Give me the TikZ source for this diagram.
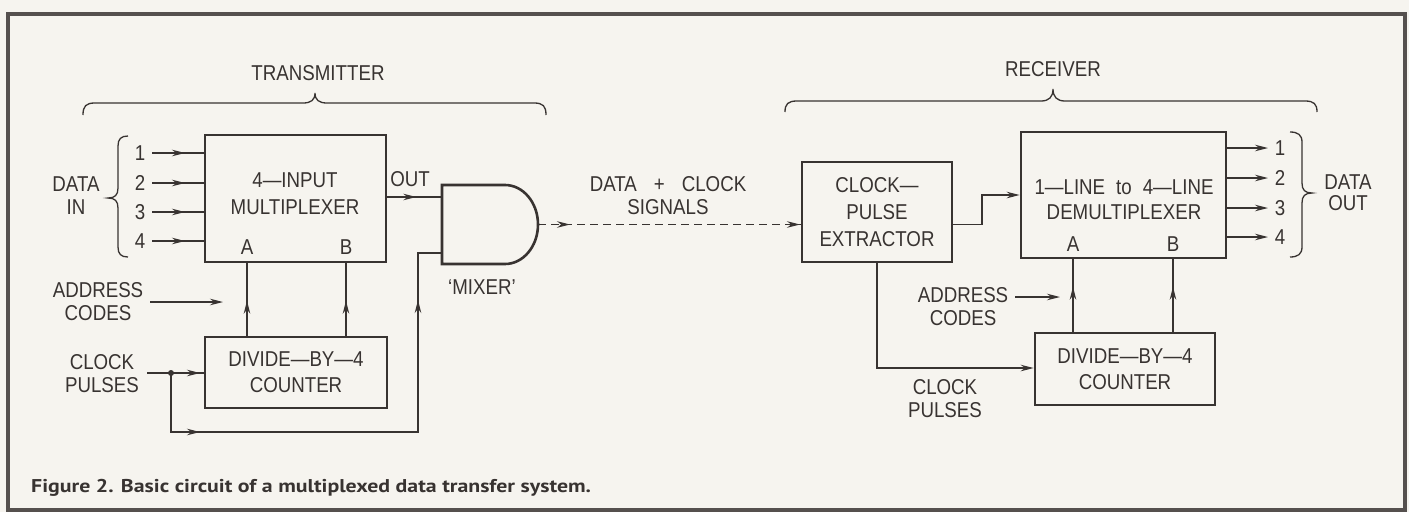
\documentclass[tikz,border=0pt]{standalone}
\usepackage{fontspec}
\setmainfont[FakeStretch=0.87]{Liberation Sans}
\newfontfamily\capfont[FakeStretch=1.18]{PT Sans}
\usetikzlibrary{arrows.meta,decorations.markings}
\definecolor{ink}{HTML}{383331}
\definecolor{paper}{HTML}{F6F4EF}
\definecolor{framec}{HTML}{55504E}
\begin{document}
\begin{tikzpicture}[x=1pt,y=-1pt,color=ink,
  every node/.style={text=ink, font=\fontsize{21.5}{23}\selectfont, inner sep=0pt, align=center},
  box/.style={draw=ink, line width=2.6pt, rectangle},
  boxtext/.style={font=\fontsize{21.5}{26}\selectfont},
  wire/.style={draw=ink, line width=1.3pt},
  tip/.style={-{Stealth[length=13pt,width=6.5pt]}},
  marr/.style={postaction={decorate,decoration={markings,mark=at position #1 with {\arrow{Stealth[length=13pt,width=6.5pt]}}}}},
  brace/.style={draw=ink, line width=1.3pt},
]
\fill[paper] (0,0) rectangle (1409,512);
\useasboundingbox (0,0) rectangle (1409,512);
\draw[framec, line width=3.2pt] (8,14) rectangle (1405,510);

% ---------- transmitter ----------
\node (ttl) at (318,73) {TRANSMITTER};
\draw[brace] (83,115) .. controls (83,106) and (86,103) .. (95,103) -- (303,103)
  .. controls (311,103) and (315,100) .. (315,93) .. controls (315,100) and (319,103) .. (327,103)
  -- (534,103) .. controls (543,103) and (546,106) .. (546,115);

\node[box, minimum width=181, minimum height=127] (mux) at (295.5,198.5) {};
\node[font=\fontsize{21.5}{27}\selectfont] (muxt) at (295,193.5) {4---INPUT\\MULTIPLEXER};
\node (tAl) at (247,247) {A};
\node (tBl) at (346,247) {B};

\node (datain) at (76,196) {DATA\\IN};
\draw[brace] (128,136) .. controls (121,136) and (118,139) .. (118,146) -- (118,188)
  .. controls (118,195) and (115,198) .. (108,198) .. controls (115,198) and (118,201) .. (118,208)
  -- (118,247) .. controls (118,254) and (121,257) .. (128,257);

\foreach \i/\y in {1/153,2/183,3/212,4/241} {
  \node (n\i) at (140,\y) {\i};
  \coordinate (in\i) at (152,\y);
  \draw[wire, marr=33pt] (in\i) -- (in\i -| mux.west);
}

\node[box, boxtext, minimum width=182, minimum height=71] (tcnt) at (296,372.5) {DIVIDE---BY---4\\COUNTER};

% mixer
\coordinate (mixin1) at (442,197);
\coordinate (mixin2) at (442,253);
\coordinate (mixout) at (538,224.5);
\draw[box] (442,185) -- (505,185) .. controls (523.2,185) and (538,202.7) .. (mixout)
  .. controls (538,246.3) and (523.2,264) .. (505,264) -- (442,264) -- cycle;
\node (mixl) at (482,287) {`MIXER'};

\node (outl) at (410,179) {OUT};
\draw[wire, marr=29pt] (mux.east |- mixin1) -- (mixin1);

\node (taddr) at (98,301.5) {ADDRESS\\CODES};
\coordinate (taddrs) at (150,302);
\coordinate (taddre) at (223,302);
\draw[wire, tip] (taddrs) -- (taddre);

\draw[wire, marr=35pt] (tcnt.north -| tAl) -- (mux.south -| tAl);
\draw[wire, marr=35pt] (tcnt.north -| tBl) -- (mux.south -| tBl);

\node (tclk) at (102,373.5) {CLOCK\\PULSES};
\coordinate (tclks) at (147,373);
\coordinate (dot) at (171,373);
\draw[wire, marr=53pt] (tclks) -- (tclks -| tcnt.west);
\fill (dot) circle (3pt);
\coordinate (lp1) at (171,432);
\coordinate (lp2) at (418,432);
\draw[wire, marr=88pt, marr=438pt] (dot) -- (lp1) -- (lp2) -- (lp2 |- mixin2) -- (mixin2);

% ---------- link ----------
\node (sig) at (668,196) {DATA\hspace{17pt}+\hspace{17pt}CLOCK\\SIGNALS};

% ---------- receiver ----------
\node (rtl) at (1053,69) {RECEIVER};
\draw[brace] (785,112) .. controls (785,104) and (788,101) .. (797,101) -- (1041,101)
  .. controls (1049,101) and (1053,97) .. (1053,89) .. controls (1053,97) and (1057,101) .. (1065,101)
  -- (1305,101) .. controls (1314,101) and (1317,104) .. (1317,112);

\node[box, font=\fontsize{21.5}{27}\selectfont, minimum width=150, minimum height=100] (ext) at (877,212) {CLOCK---\\PULSE\\EXTRACTOR};

\draw[wire, dash pattern=on 8pt off 5pt, marr=32pt, marr=262pt] (mixout) -- (ext.west |- mixout);

\node[box, minimum width=205, minimum height=126] (demux) at (1123.5,195) {};
\node[font=\fontsize{21.5}{25}\selectfont] (demuxt) at (1124,199.5) {1---LINE\hspace{11pt}to\hspace{11pt}4---LINE\\DEMULTIPLEXER};
\node (rAl) at (1073,244) {A};
\node (rBl) at (1173,244) {B};

\coordinate (rj1) at (982,224.5);
\coordinate (rj2) at (982,195);
\draw[wire, tip] (ext.east |- mixout) -- (rj1) -- (rj2) -- (rj2 -| demux.west);

\node[box, boxtext, minimum width=180, minimum height=72] (rcnt) at (1125,369) {DIVIDE---BY---4\\COUNTER};

\coordinate (rj3) at (877,368);
\draw[wire, tip] (ext.south) -- (rj3) -- (rj3 -| rcnt.west);

\node (raddr) at (963,307) {ADDRESS\\CODES};
\coordinate (raddrs) at (1015,297);
\coordinate (raddre) at (1060,297);
\draw[wire, tip] (raddrs) -- (raddre);

\draw[wire, marr=45pt] (rcnt.north -| rAl) -- (demux.south -| rAl);
\draw[wire, marr=45pt] (rcnt.north -| rBl) -- (demux.south -| rBl);

\node (rclk) at (945,399) {CLOCK\\PULSES};

\foreach \i/\y in {1/148,2/178,3/208,4/237} {
  \node (o\i) at (1280,\y) {\i};
  \coordinate (oe\i) at (1268,\y);
  \draw[wire, tip] (demux.east |- oe\i) -- (oe\i);
}
\node[font=\fontsize{21.5}{21}\selectfont] (dataout) at (1348,192.5) {DATA\\OUT};
\draw[brace] (1290,132) .. controls (1298,132) and (1302,135) .. (1302,142) -- (1302,183)
  .. controls (1302,190) and (1305,193) .. (1312,193) .. controls (1305,193) and (1302,196) .. (1302,203)
  -- (1302,247) .. controls (1302,254) and (1298,257) .. (1290,257);

% ---------- caption ----------
\node[anchor=west, font=\capfont\bfseries\fontsize{18.5}{20}\selectfont] (cap) at (31,488) {Figure 2. Basic circuit of a multiplexed data transfer system.};
\end{tikzpicture}
\end{document}
